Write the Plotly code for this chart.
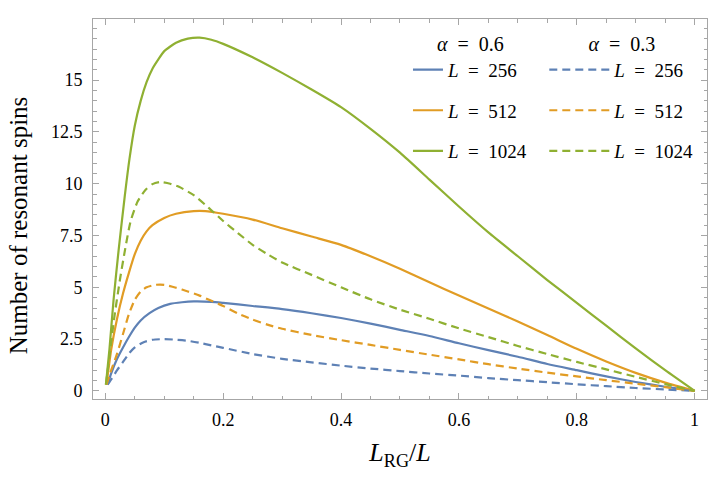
import plotly.graph_objects as go

# ---------------- data ----------------
x_b06 = [0.0039, 0.01, 0.02, 0.03, 0.04, 0.05, 0.06, 0.075, 0.09, 0.11, 0.13, 0.15, 0.18, 0.2, 0.25, 0.3, 0.35, 0.4, 0.45, 0.5, 0.55, 0.6, 0.65, 0.7, 0.75, 0.8, 0.85, 0.9, 0.95, 1.0]
y_b06 = [0.3, 0.85, 1.55, 2.1, 2.6, 3.05, 3.4, 3.75, 4.0, 4.2, 4.28, 4.32, 4.3, 4.25, 4.1, 3.95, 3.75, 3.52, 3.25, 2.95, 2.65, 2.3, 1.97, 1.65, 1.3, 1.0, 0.7, 0.43, 0.2, 0.0]

x_o06 = [0.002, 0.01, 0.02, 0.03, 0.04, 0.05, 0.06, 0.07, 0.08, 0.1, 0.12, 0.15, 0.17, 0.2, 0.25, 0.3, 0.35, 0.4, 0.45, 0.5, 0.55, 0.6, 0.65, 0.7, 0.75, 0.8, 0.85, 0.9, 0.95, 1.0]
y_o06 = [0.3, 2.0, 3.5, 4.7, 5.7, 6.6, 7.25, 7.7, 8.0, 8.35, 8.55, 8.68, 8.68, 8.55, 8.27, 7.85, 7.45, 7.05, 6.5, 5.9, 5.25, 4.6, 3.98, 3.35, 2.7, 2.03, 1.42, 0.87, 0.4, 0.0]

x_g06 = [0.001, 0.007, 0.014, 0.0226, 0.033, 0.041, 0.05, 0.06, 0.07, 0.08, 0.09, 0.1, 0.12, 0.14, 0.16, 0.18, 0.2, 0.25, 0.3, 0.35, 0.4, 0.45, 0.5, 0.55, 0.6, 0.65, 0.7, 0.75, 0.8, 0.85, 0.9, 0.95, 1.0]
y_g06 = [0.3, 2.0, 4.4, 6.8, 9.4, 11.2, 12.8, 14.0, 14.9, 15.55, 16.0, 16.4, 16.8, 17.0, 17.05, 16.95, 16.75, 16.1, 15.35, 14.55, 13.7, 12.65, 11.5, 10.2, 8.9, 7.65, 6.5, 5.35, 4.25, 3.15, 2.05, 1.0, 0.0]

x_b03 = [0.0039, 0.01, 0.02, 0.03, 0.04, 0.05, 0.065, 0.08, 0.1, 0.12, 0.14, 0.16, 0.18, 0.2, 0.25, 0.3, 0.35, 0.4, 0.45, 0.5, 0.55, 0.6, 0.65, 0.7, 0.75, 0.8, 0.85, 0.9, 0.95, 1.0]
y_b03 = [0.3, 0.55, 1.0, 1.4, 1.8, 2.1, 2.35, 2.47, 2.5, 2.47, 2.42, 2.32, 2.2, 2.08, 1.78, 1.55, 1.38, 1.22, 1.08, 0.96, 0.84, 0.74, 0.62, 0.52, 0.42, 0.32, 0.23, 0.14, 0.07, 0.0]

x_o03 = [0.002, 0.01, 0.02, 0.03, 0.04, 0.05, 0.06, 0.07, 0.085, 0.1, 0.12, 0.14, 0.16, 0.18, 0.2, 0.225, 0.25, 0.275, 0.3, 0.35, 0.4, 0.45, 0.5, 0.55, 0.6, 0.65, 0.7, 0.75, 0.8, 0.85, 0.9, 0.95, 1.0]
y_o03 = [0.3, 1.0, 1.8, 2.75, 3.7, 4.4, 4.8, 5.0, 5.12, 5.12, 4.98, 4.8, 4.6, 4.35, 4.1, 3.74, 3.44, 3.2, 3.0, 2.7, 2.45, 2.22, 1.98, 1.75, 1.52, 1.29, 1.08, 0.88, 0.7, 0.52, 0.35, 0.18, 0.0]

x_g03 = [0.001, 0.008, 0.015, 0.025, 0.034, 0.043, 0.055, 0.068, 0.08, 0.093, 0.11, 0.125, 0.15, 0.175, 0.2, 0.225, 0.25, 0.275, 0.3, 0.35, 0.4, 0.45, 0.5, 0.55, 0.6, 0.65, 0.7, 0.75, 0.8, 0.85, 0.9, 0.95, 1.0]
y_g03 = [0.3, 1.9, 3.5, 5.4, 6.9, 8.2, 9.15, 9.7, 9.98, 10.08, 10.0, 9.85, 9.45, 8.85, 8.2, 7.62, 7.05, 6.6, 6.2, 5.6, 5.0, 4.42, 3.92, 3.48, 3.02, 2.6, 2.17, 1.78, 1.4, 1.04, 0.68, 0.33, 0.0]

sizes = ["256", "512", "1024"]
colors = ["#5E81B5", "#E19C24", "#8FB032"]

x_ticks = [0, 0.2, 0.4, 0.6, 0.8, 1.0]
x_ticklabels = ["0", "0.2", "0.4", "0.6", "0.8", "1"]
y_ticks = [0, 2.5, 5, 7.5, 10, 12.5, 15]
y_ticklabels = ["0", "2.5", "5", "7.5", "10", "12.5", "15"]

FONT = "Liberation Serif"
FRAME = "#a6a6a6"
EQ = "\u2002=\u2002"

fig = go.Figure()

solid = [(x_b06, y_b06), (x_o06, y_o06), (x_g06, y_g06)]
dashed = [(x_b03, y_b03), (x_o03, y_o03), (x_g03, y_g03)]

for i, (xs, ys) in enumerate(solid):
    fig.add_trace(go.Scatter(
        x=xs, y=ys, mode="lines", line=dict(color=colors[i], width=2.2, shape="spline", smoothing=0.6),
        name=f"<i>L</i>{EQ}{sizes[i]}", legend="legend", legendgroup=f"a{i}"))
for i, (xs, ys) in enumerate(dashed):
    fig.add_trace(go.Scatter(
        x=xs, y=ys, mode="lines", line=dict(color=colors[i], width=2.2, dash="8px,5px", shape="spline", smoothing=0.6),
        name=f"<i>L</i>{EQ}{sizes[i]}", legend="legend2", legendgroup=f"b{i}"))

axis_common = dict(
    showline=True, linecolor=FRAME, linewidth=1, mirror="allticks",
    ticks="inside", ticklen=6, tickcolor=FRAME, tickwidth=1,
    showgrid=False, zeroline=False,
    tickfont=dict(family=FONT, size=18, color="black"),
)

fig.update_xaxes(
    range=[-0.0209, 1.021], tickmode="array", tickvals=x_ticks, ticktext=x_ticklabels,
    minor=dict(dtick=0.05, tick0=0, ticks="inside", ticklen=3.5, tickcolor=FRAME, showgrid=False),
    title=dict(text="<i>L</i><sub>RG</sub>/<i>L</i>", font=dict(family=FONT, size=26, color="black"), standoff=14),
    ticklabelstandoff=4,
    **axis_common)
fig.update_yaxes(
    range=[-0.39, 17.95], tickmode="array", tickvals=y_ticks, ticktext=y_ticklabels,
    minor=dict(dtick=0.5, tick0=0, ticks="inside", ticklen=3.5, tickcolor=FRAME, showgrid=False),
    ticklabelstandoff=6,
    **axis_common)

fig.add_annotation(
    text="Number of resonant spins", textangle=-90,
    xref="paper", yref="paper", x=-0.12, y=0.458, xanchor="center", yanchor="middle",
    showarrow=False, font=dict(family=FONT, size=25, color="black"))

legend_common = dict(
    bgcolor="rgba(0,0,0,0)", borderwidth=0, xanchor="left", yanchor="top",
    font=dict(family=FONT, size=19, color="black"), tracegroupgap=13,
)
fig.update_layout(
    width=721, height=478,
    margin=dict(l=93, r=14, t=19, b=79),
    paper_bgcolor="white", plot_bgcolor="white",
    showlegend=True,
    legend=dict(x=0.513, y=0.985, itemwidth=30,
                title=dict(text=f"<i>α</i>{EQ}0.6", side="top center", font=dict(family=FONT, size=20, color="black")),
                **legend_common),
    legend2=dict(x=0.735, y=0.985, itemwidth=60,
                 title=dict(text=f"<i>α</i>{EQ}0.3", side="top center", font=dict(family=FONT, size=20, color="black")),
                 **legend_common),
)

fig.write_html("out.html")
